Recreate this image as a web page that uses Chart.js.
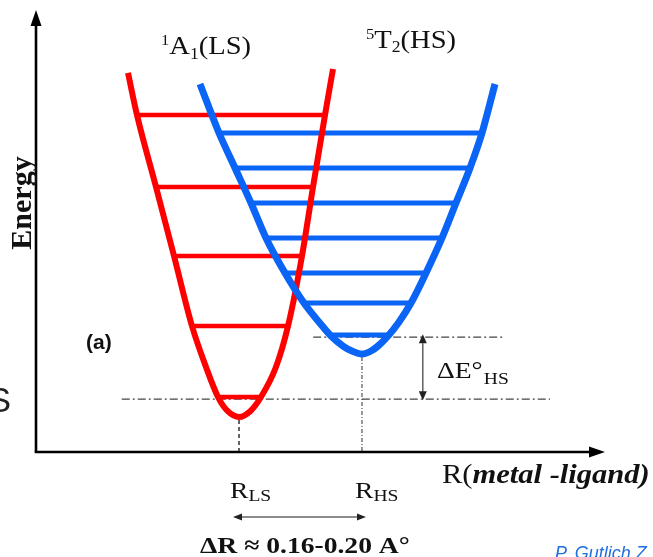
<!DOCTYPE html>
<html><head><meta charset="utf-8">
<script src="https://cdn.jsdelivr.net/npm/chart.js@4.4.1/dist/chart.umd.min.js"></script>
<style>html,body{margin:0;padding:0;background:#fff;overflow:hidden}</style>
</head><body>
<canvas id="c" width="653" height="557"></canvas>
<script>
// ---- data (R = metal-ligand distance, E = energy; arbitrary units) ----
const lsCurveR = [16.20, 17.78, 21.13, 24.30, 27.46, 29.93, 32.04, 33.71, 35.74, 37.76, 39.61, 42.25, 44.37, 46.83, 48.77, 50.88, 52.29];
const lsCurveE = [86.14, 76.59, 60.23, 44.55, 28.64, 19.32, 12.50, 9.32, 7.95, 9.32, 12.50, 19.32, 28.64, 44.55, 60.23, 76.59, 87.05];
const hsCurveR = [28.87, 32.22, 35.04, 37.85, 40.49, 43.84, 47.18, 49.82, 51.94, 54.05, 55.63, 57.39, 58.98, 60.21, 61.97, 63.91, 66.02, 68.66, 71.48, 73.94, 76.41, 78.52, 80.81];
const hsCurveE = [83.64, 72.50, 64.55, 56.59, 48.64, 40.68, 33.86, 29.55, 26.36, 24.09, 22.95, 22.27, 22.95, 24.09, 26.36, 29.55, 33.86, 40.68, 48.64, 56.59, 64.55, 72.50, 83.64];
const lsLevelE = [76.59, 60.23, 44.55, 28.64, 12.50];
const lsLevelLeft = [17.78, 21.13, 24.30, 27.46, 32.04];
const lsLevelRight = [50.88, 48.77, 46.83, 44.37, 39.61];
const hsLevelE = [72.50, 64.55, 56.59, 48.64, 40.68, 33.86, 26.60];
const hsLevelLeft = [32.22, 35.04, 37.85, 40.49, 43.84, 47.18, 52.10];
const hsLevelRight = [78.52, 76.41, 73.94, 71.48, 68.66, 66.02, 61.80];
const lsZeroE = 12.0, lsZeroSpan = [15.1, 90.5];
const hsZeroE = 26.1, hsZeroSpan = [48.8, 82.6];
const rLS = 35.74, rLSmin = 7.3;
const rHS = 57.39, rHSmin = 21.6;
const deltaEArrowR = 68.1;
const labels = {
  ls: ['1', 'A', '1', '(LS)'],
  hs: ['5', 'T', '2', '(HS)'],
  yTitle: 'Energy',
  xTitleA: 'R(', xTitleB: 'metal -ligand)',
  panel: '(a)',
  dR: 'ΔR ≈ 0.16-0.20 A°',
  dE: 'ΔE°', dEsub: 'HS',
  credit: 'P. Gutlich Z'
};

const RED = '#ff0000', BLUE = '#0a64f5';
const pts = (xs, ys) => xs.map((x, i) => ({x, y: ys[i]}));
const datasets = [];
datasets.push({data: pts(hsCurveR, hsCurveE), borderColor: BLUE, borderWidth: 7, cubicInterpolationMode: 'monotone', order: 1});
datasets.push({data: pts(lsCurveR, lsCurveE), borderColor: RED, borderWidth: 6, cubicInterpolationMode: 'monotone', order: 2});
hsLevelE.forEach((e, i) => datasets.push({data: [{x: hsLevelLeft[i], y: e}, {x: hsLevelRight[i], y: e}], borderColor: BLUE, borderWidth: 5, order: 3}));
lsLevelE.forEach((e, i) => datasets.push({data: [{x: lsLevelLeft[i], y: e}, {x: lsLevelRight[i], y: e}], borderColor: RED, borderWidth: 4.5, order: 4}));
datasets.push({data: [{x: lsZeroSpan[0], y: lsZeroE}, {x: lsZeroSpan[1], y: lsZeroE}], borderColor: '#444', borderWidth: 1.3, borderDash: [8, 3, 2, 3], order: 5});
datasets.push({data: [{x: hsZeroSpan[0], y: hsZeroE}, {x: hsZeroSpan[1], y: hsZeroE}], borderColor: '#444', borderWidth: 1.3, borderDash: [8, 3, 2, 3], order: 5});
datasets.push({data: [{x: rLS, y: rLSmin}, {x: rLS, y: 0}], borderColor: '#111', borderWidth: 1.3, borderDash: [4, 3], order: 5});
datasets.push({data: [{x: rHS, y: rHSmin}, {x: rHS, y: 0}], borderColor: '#777', borderWidth: 1.5, borderDash: [4, 2, 1, 2], order: 5});
datasets.forEach(d => { d.showLine = true; d.pointRadius = 0; d.fill = false; d.tension = d.cubicInterpolationMode ? 0.4 : 0; });

function arrowHead(ctx, x, y, dir, len, half) {
  ctx.beginPath();
  if (dir === 'up') { ctx.moveTo(x, y); ctx.lineTo(x - half, y + len); ctx.lineTo(x + half, y + len); }
  else if (dir === 'down') { ctx.moveTo(x, y); ctx.lineTo(x - half, y - len); ctx.lineTo(x + half, y - len); }
  else if (dir === 'right') { ctx.moveTo(x, y); ctx.lineTo(x - len, y - half); ctx.lineTo(x - len, y + half); }
  else { ctx.moveTo(x, y); ctx.lineTo(x + len, y - half); ctx.lineTo(x + len, y + half); }
  ctx.closePath(); ctx.fill();
}
function rich(ctx, x, y, parts, sx) {
  ctx.save(); ctx.translate(x, y); ctx.scale(sx || 1, 1);
  let cx = 0;
  parts.forEach(p => { ctx.font = p.f; ctx.fillText(p.t, cx, p.dy || 0); cx += ctx.measureText(p.t).width + (p.gap || 0); });
  ctx.restore();
}
const SERIF = '"Liberation Serif", "DejaVu Serif", serif';
const SANS = '"Liberation Sans", Arial, sans-serif';

const decor = {
  id: 'decor',
  afterDraw(chart) {
    const ctx = chart.ctx, xs = chart.scales.x, ys = chart.scales.y;
    const x0 = xs.getPixelForValue(0), y0 = ys.getPixelForValue(0);
    ctx.save();
    ctx.strokeStyle = '#000'; ctx.fillStyle = '#000'; ctx.lineWidth = 2.6;
    ctx.beginPath(); ctx.moveTo(x0, y0); ctx.lineTo(x0, ys.getPixelForValue(100) + 10); ctx.stroke();
    arrowHead(ctx, x0, ys.getPixelForValue(100) - 2, 'up', 16, 5.5);
    ctx.beginPath(); ctx.moveTo(x0 - 1.3, y0); ctx.lineTo(xs.getPixelForValue(100) - 10, y0); ctx.stroke();
    arrowHead(ctx, xs.getPixelForValue(100) + 1, y0, 'right', 16, 5.5);
    const ax = xs.getPixelForValue(deltaEArrowR);
    const ya = ys.getPixelForValue(hsZeroE), yb = ys.getPixelForValue(lsZeroE);
    ctx.strokeStyle = '#555'; ctx.fillStyle = '#222'; ctx.lineWidth = 1.4;
    ctx.beginPath(); ctx.moveTo(ax, ya + 6); ctx.lineTo(ax, yb - 6); ctx.stroke();
    arrowHead(ctx, ax, ya - 3, 'up', 9, 4); arrowHead(ctx, ax, yb + 1, 'down', 9, 4);
    const la = xs.getPixelForValue(rLS) - 6, lb = xs.getPixelForValue(rHS) + 4;
    const ry = 517;
    ctx.strokeStyle = '#666'; ctx.fillStyle = '#222'; ctx.lineWidth = 1.6;
    ctx.beginPath(); ctx.moveTo(la + 6, ry); ctx.lineTo(lb - 6, ry); ctx.stroke();
    arrowHead(ctx, la, ry, 'left', 9, 3.5); arrowHead(ctx, lb, ry, 'right', 9, 3.5);
    ctx.fillStyle = '#111'; ctx.textAlign = 'left'; ctx.textBaseline = 'alphabetic';
    rich(ctx, 161, 54, [{t: labels.ls[0], f: '15px ' + SERIF, dy: -9}, {t: labels.ls[1], f: '26px ' + SERIF}, {t: labels.ls[2], f: '16px ' + SERIF, dy: 5}, {t: labels.ls[3], f: '26px ' + SERIF}], 1.1);
    rich(ctx, 366, 48, [{t: labels.hs[0], f: '15px ' + SERIF, dy: -9}, {t: labels.hs[1], f: '26px ' + SERIF}, {t: labels.hs[2], f: '16px ' + SERIF, dy: 4}, {t: labels.hs[3], f: '26px ' + SERIF}], 1.1);
    ctx.save(); ctx.translate(31, 203); ctx.rotate(-Math.PI / 2); ctx.textAlign = 'center';
    ctx.font = 'bold 30px ' + SERIF; ctx.fillText(labels.yTitle, 0, 0); ctx.restore();
    ctx.font = 'bold 21px ' + SANS; ctx.fillText(labels.panel, 86, 349);
    ctx.save(); ctx.textAlign = 'right'; ctx.font = '35px ' + SANS; ctx.fillStyle = '#222'; ctx.fillText('S', 11, 412); ctx.restore();
    rich(ctx, 442, 483, [{t: labels.xTitleA, f: '28px ' + SERIF}, {t: labels.xTitleB, f: 'italic bold 28px ' + SERIF}], 1.09);
    rich(ctx, 230, 498, [{t: 'R', f: '24px ' + SERIF}, {t: 'LS', f: '17px ' + SERIF, dy: 3}], 1.15);
    rich(ctx, 355, 498, [{t: 'R', f: '24px ' + SERIF}, {t: 'HS', f: '17px ' + SERIF, dy: 3}], 1.15);
    rich(ctx, 200, 553, [{t: labels.dR, f: 'bold 24px ' + SERIF}], 1.15);
    rich(ctx, 437, 378, [{t: labels.dE, f: '24px ' + SERIF, gap: 1}, {t: labels.dEsub, f: '17px ' + SERIF, dy: 6}], 1.15);
    ctx.fillStyle = '#1f6fe0'; ctx.font = 'italic 18px ' + SANS; ctx.fillText(labels.credit, 555, 559);
    ctx.restore();
  }
};

new Chart(document.getElementById('c'), {
  type: 'scatter',
  data: {datasets},
  options: {
    responsive: false, animation: false, devicePixelRatio: 1,
    layout: {padding: {left: 36, top: 12, right: 49, bottom: 105}},
    plugins: {legend: {display: false}, tooltip: {enabled: false}},
    scales: {
      x: {type: 'linear', min: 0, max: 100, display: false},
      y: {type: 'linear', min: 0, max: 100, display: false}
    }
  },
  plugins: [decor]
});
</script>
</body></html>
